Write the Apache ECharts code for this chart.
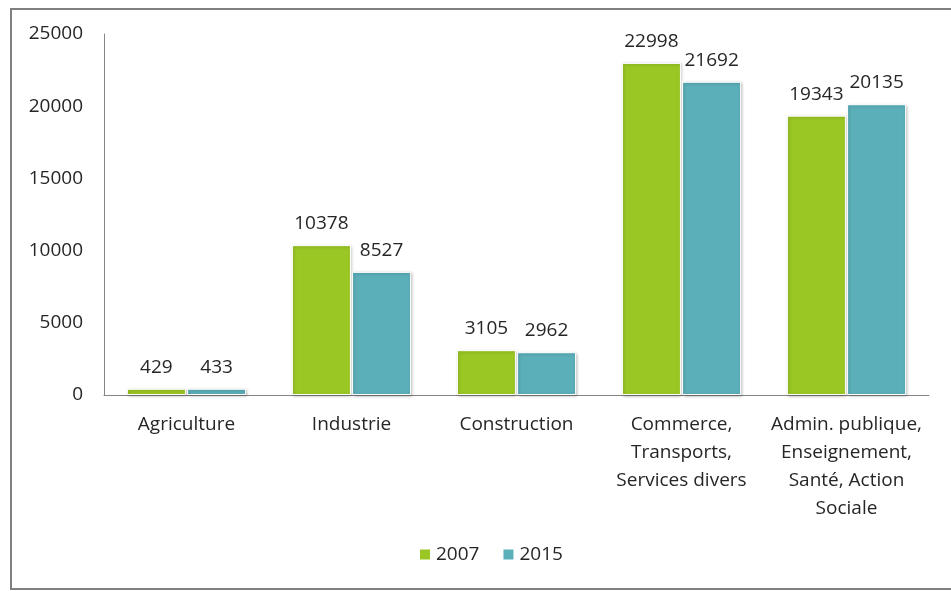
<!DOCTYPE html>
<html>
<head>
<meta charset="utf-8">
<script src="https://cdn.jsdelivr.net/npm/echarts@6/dist/echarts.min.js"></script>
<style>
  html, body { margin: 0; padding: 0; background: #fff; }
  #chart { width: 951px; height: 591px; }
</style>
</head>
<body>
<div id="chart"></div>
<script>
var categories = ['Agriculture', 'Industrie', 'Construction',
  'Commerce,\nTransports,\nServices divers',
  'Admin. publique,\nEnseignement,\nSanté, Action\nSociale'];
var years = ['2007', '2015'];
var values2007 = [429, 10378, 3105, 22998, 19343];
var values2015 = [433, 8527, 2962, 21692, 20135];
var colors = ['#9bc724', '#5bafb9'];

var font = '"Open Sans", "Noto Sans", sans-serif';
var fs = 19;
var chart = echarts.init(document.getElementById('chart'));

function barSeries(name, data, color) {
  return {
    name: name,
    type: 'bar',
    data: data,
    barWidth: 59,
    barGap: '2%',
    itemStyle: {
      color: color,
      borderColor: '#fff',
      borderWidth: 1,
      shadowColor: 'rgba(0,0,0,0.25)',
      shadowBlur: 3,
      shadowOffsetX: 1,
      shadowOffsetY: 1
    },
    label: {
      show: true,
      position: 'top',
      distance: 12,
      color: '#262626',
      fontFamily: font,
      fontSize: fs
    }
  };
}

chart.setOption({
  animation: false,
  textStyle: { fontFamily: font },
  graphic: [{
    type: 'rect',
    shape: { x: 11, y: 9, width: 960, height: 580 },
    style: { fill: null, stroke: '#808080', lineWidth: 2 },
    silent: true
  }],
  grid: { left: 104, right: 22, top: 34, bottom: 196 },
  legend: {
    data: years,
    bottom: 22,
    left: 413,
    itemWidth: 12,
    itemHeight: 12,
    itemGap: 22,
    icon: 'rect',
    textStyle: { fontFamily: font, fontSize: fs, color: '#262626' }
  },
  xAxis: {
    type: 'category',
    data: categories,
    axisLine: { lineStyle: { color: '#868686' } },
    axisTick: { show: false },
    axisLabel: {
      interval: 0,
      margin: 16,
      color: '#262626',
      fontFamily: font,
      fontSize: fs,
      lineHeight: 28
    }
  },
  yAxis: {
    type: 'value',
    min: 0,
    max: 25000,
    interval: 5000,
    splitLine: { show: false },
    axisLine: { show: true, lineStyle: { color: '#868686' } },
    axisTick: { show: false },
    axisLabel: {
      margin: 21,
      color: '#262626',
      fontFamily: font,
      fontSize: fs,
      formatter: function (v) { return String(v); }
    }
  },
  series: [
    barSeries(years[0], values2007, colors[0]),
    barSeries(years[1], values2015, colors[1])
  ]
});
</script>
</body>
</html>
